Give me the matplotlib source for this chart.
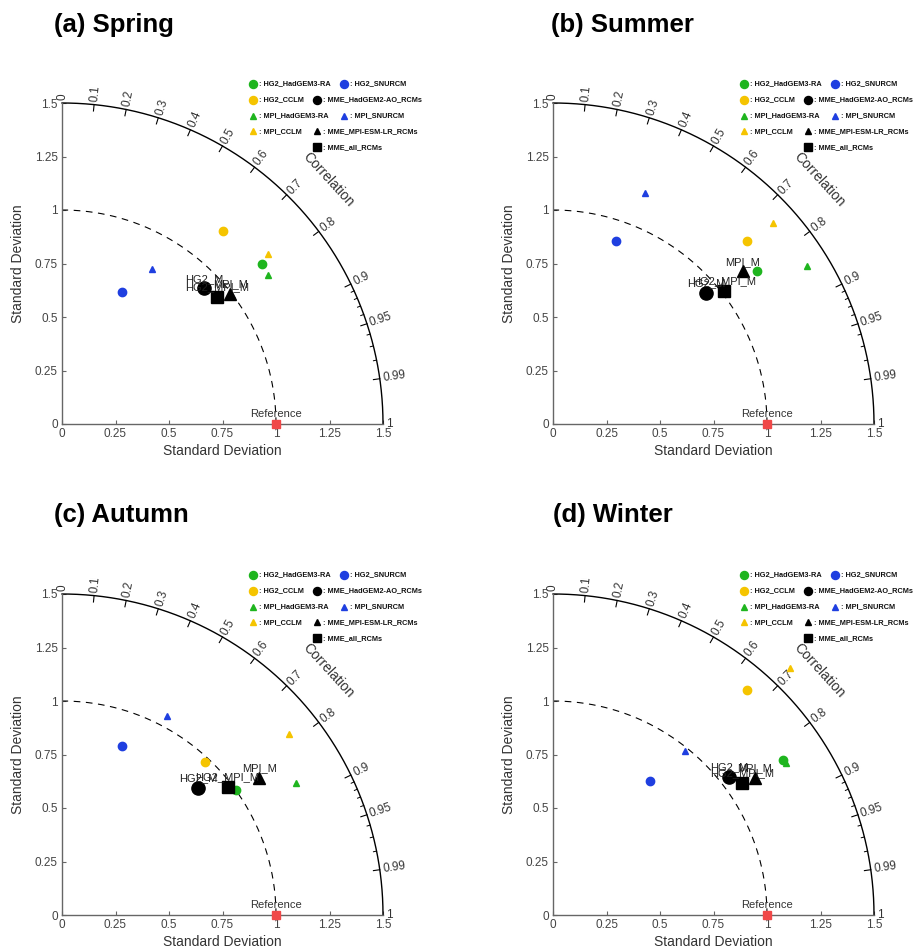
import numpy as np
import matplotlib
matplotlib.use('Agg')
import matplotlib.pyplot as plt

plt.rcParams['font.family'] = ['Liberation Sans', 'DejaVu Sans']

# ---------------- data ----------------
models = ['HG2_HadGEM3-RA', 'HG2_SNURCM', 'HG2_CCLM', 'MME_HadGEM2-AO_RCMs',
          'MPI_HadGEM3-RA', 'MPI_SNURCM', 'MPI_CCLM', 'MME_MPI-ESM-LR_RCMs',
          'MME_all_RCMs']
mme_labels = {3: 'HG2_M', 7: 'MPI_M', 8: 'HG2_MPI_M'}

titles = ['(a) Spring', '(b) Summer', '(c) Autumn', '(d) Winter']

spring_std = [1.197, 0.678, 1.177, 0.917, 1.189, 0.838, 1.248, 0.993, 0.938]
spring_corr = [0.781, 0.413, 0.641, 0.723, 0.810, 0.501, 0.771, 0.791, 0.773]
summer_std = [1.194, 0.904, 1.246, 0.942, 1.399, 1.162, 1.392, 1.137, 1.014]
summer_corr = [0.800, 0.325, 0.727, 0.759, 0.849, 0.370, 0.738, 0.779, 0.789]
autumn_std = [1.001, 0.838, 0.979, 0.870, 1.255, 1.051, 1.357, 1.123, 0.979]
autumn_corr = [0.812, 0.334, 0.682, 0.732, 0.870, 0.466, 0.782, 0.821, 0.790]
winter_std = [1.297, 0.773, 1.388, 1.045, 1.299, 0.984, 1.599, 1.140, 1.077]
winter_corr = [0.830, 0.586, 0.653, 0.788, 0.838, 0.627, 0.692, 0.828, 0.819]

ref_std = 1.0
std_ticks = [0, 0.25, 0.5, 0.75, 1, 1.25, 1.5]
std_ticklabels = ['0', '0.25', '0.5', '0.75', '1', '1.25', '1.5']
corr_ticks = [0, 0.1, 0.2, 0.3, 0.4, 0.5, 0.6, 0.7, 0.8, 0.9, 0.95, 0.99, 1.0]
corr_ticklabels = ['0', '0.1', '0.2', '0.3', '0.4', '0.5', '0.6', '0.7', '0.8',
                   '0.9', '0.95', '0.99', '1']
corr_minor = [0.91, 0.92, 0.93, 0.94, 0.96, 0.97, 0.98]

# ---------------- style ----------------
GREEN, BLUE, YELLOW, BLACK = '#1fb51f', '#1f3fe0', '#f5c400', '#000000'
colors = [GREEN, BLUE, YELLOW, BLACK, GREEN, BLUE, YELLOW, BLACK, BLACK]
markers = ['o', 'o', 'o', 'o', '^', '^', '^', '^', 's']
msizes = [6, 6, 6, 9.5, 5, 5, 5, 8, 8.5]
leg_ms = [5.8, 5.8, 5.8, 5.8, 4.5, 4.5, 4.5, 4.5, 6]

W, H = 916, 951
S = 214.0  # pixels per std unit
origins = [(62, 424), (553, 424), (62, 915), (553, 915)]
title_pos = [(54, 32), (551, 32), (54, 522), (553, 522)]

# legend layout (row, column) in data units
leg_rows = [0, 0, 1, 1, 2, 2, 3, 3, 4]
leg_x = [0.893, 1.318, 0.893, 1.193, 0.893, 1.318, 0.893, 1.193, 1.193]
leg_y0, leg_dy = 1.589, 0.0738

fig = plt.figure(figsize=(W / 100, H / 100), dpi=100)

data = [(spring_std, spring_corr), (summer_std, summer_corr),
        (autumn_std, autumn_corr), (winter_std, winter_corr)]

tgray = '#333333'
for k, (stds, corrs) in enumerate(data):
    ox, oy = origins[k]
    ax = fig.add_axes([ox / W, 1 - oy / H, 1.5 * S / W, 1.5 * S / H])
    ax.set_xlim(0, 1.5)
    ax.set_ylim(0, 1.5)
    for sp in ['top', 'right']:
        ax.spines[sp].set_visible(False)
    for sp in ['left', 'bottom']:
        ax.spines[sp].set_color('#666666')
        ax.spines[sp].set_linewidth(1.0)
    ax.set_xticks(std_ticks)
    ax.set_xticklabels(std_ticklabels)
    ax.set_yticks(std_ticks)
    ax.set_yticklabels(std_ticklabels)
    ax.tick_params(direction='in', length=3, color='#666666', labelsize=8.5,
                   labelcolor='#444444', pad=3)
    ax.set_xlabel('Standard Deviation', fontsize=10, color=tgray, labelpad=3)
    ax.set_ylabel('Standard Deviation', fontsize=10, color=tgray, labelpad=7)

    # outer arc
    th = np.linspace(0, np.pi / 2, 300)
    ax.plot(1.5 * np.cos(th), 1.5 * np.sin(th), color='k', lw=1.0, clip_on=False)
    # reference dashed arc
    ax.plot(ref_std * np.cos(th), ref_std * np.sin(th), color='k', lw=0.8,
            ls=(0, (6, 5)), clip_on=False)

    # correlation ticks / labels
    for c, lab in zip(corr_ticks, corr_ticklabels):
        a = np.arccos(c)
        if 0 < c < 1:
            ax.plot([1.5 * np.cos(a), 1.47 * np.cos(a)],
                    [1.5 * np.sin(a), 1.47 * np.sin(a)], color='k', lw=0.8,
                    clip_on=False)
        ax.text(1.515 * np.cos(a), 1.515 * np.sin(a), lab, rotation=np.degrees(a),
                rotation_mode='anchor', ha='left', va='center', fontsize=8.5,
                color=tgray, clip_on=False)
    for c in corr_minor:
        a = np.arccos(c)
        ax.plot([1.5 * np.cos(a), 1.485 * np.cos(a)],
                [1.5 * np.sin(a), 1.485 * np.sin(a)], color='k', lw=0.7,
                clip_on=False)
    ac = np.radians(42.5)
    ax.text(1.69 * np.cos(ac), 1.69 * np.sin(ac), 'Correlation', rotation=-47.5,
            rotation_mode='anchor', ha='center', va='center', fontsize=10,
            color=tgray, clip_on=False)

    # reference point
    ax.plot([ref_std], [0], marker='s', color='#f04848', ms=6, clip_on=False,
            zorder=5)
    ax.text(ref_std, 0.025, 'Reference', ha='center', va='bottom', fontsize=8,
            color=tgray)

    # model points
    for i in range(len(models)):
        r = corrs[i]
        x = stds[i] * r
        y = stds[i] * np.sqrt(1 - r ** 2)
        ax.plot([x], [y], marker=markers[i], color=colors[i], ms=msizes[i],
                ls='none', clip_on=False, zorder=4 if i in mme_labels else 3)
        if i in mme_labels:
            ax.annotate(mme_labels[i], (x, y), xytext=(0, 7),
                        textcoords='offset points', ha='center', va='center',
                        fontsize=8, color='#222222', zorder=6)

    # legend
    for i in range(len(models)):
        ly = leg_y0 - leg_dy * leg_rows[i]
        ax.plot([leg_x[i]], [ly], marker=markers[i], color=colors[i],
                ms=leg_ms[i], ls='none', clip_on=False)
        ax.text(leg_x[i] + 0.026, ly, ': ' + models[i], fontsize=5.3,
                weight='bold', va='center', ha='left', color='#111111',
                clip_on=False)

    tx, ty = title_pos[k]
    fig.text(tx / W, 1 - ty / H, titles[k], fontsize=18.5, weight='bold',
             va='baseline', ha='left')

fig.savefig('out.png', dpi=100)
